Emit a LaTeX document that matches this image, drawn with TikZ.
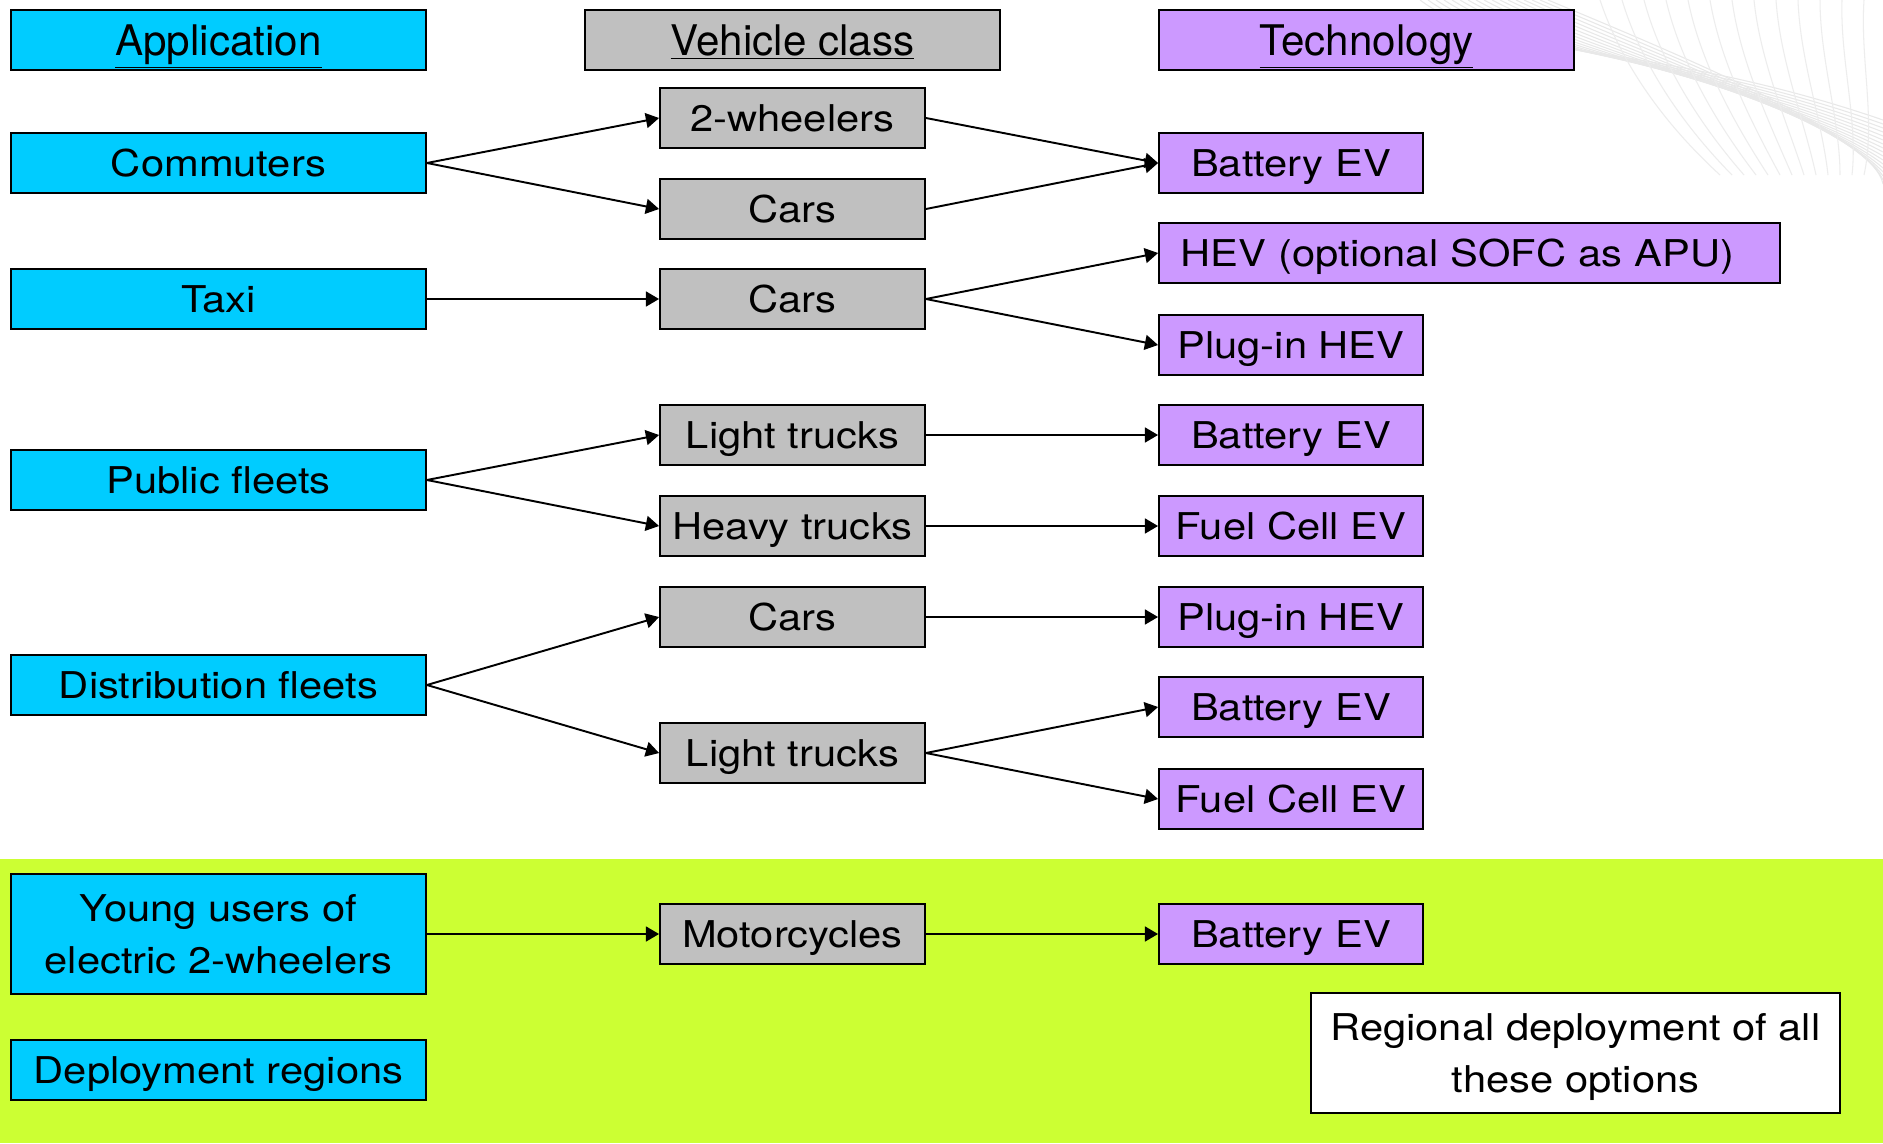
\documentclass[tikz,border=0pt]{standalone}
\usepackage{fontspec}
\setmainfont[FakeStretch=1.13]{TeX Gyre Heros}
\newfontfamily\headfont{TeX Gyre Heros}
\usetikzlibrary{arrows.meta}
\definecolor{appcol}{HTML}{00CCFF}
\definecolor{vehcol}{HTML}{C0C0C0}
\definecolor{techcol}{HTML}{CC99FF}
\definecolor{limecol}{HTML}{CCFF33}
\tikzset{
	box/.style={draw, line width=1.1pt, inner sep=0pt, minimum height=1.2cm, font=\fontsize{21}{29.6}\selectfont},
	oneline/.style={text height=15.1pt, text depth=0pt},
	head/.style={font=\headfont\fontsize{24}{28}\selectfont, text height=17.3pt, text depth=0pt},
	app/.style={box, fill=appcol, minimum width=8.3cm},
	veh/.style={box, fill=vehcol, minimum width=5.3cm},
	tech/.style={box, fill=techcol, minimum width=5.28cm},
	link/.style={line width=1.1pt, -{Triangle[length=7.5pt, width=8.5pt]}}
}
\begin{document}
\begin{tikzpicture}[x=0.02cm, y=-0.02cm]
		\fill[white] (0,0) rectangle (1883,1143);
		\useasboundingbox (0,0) rectangle (1883,1143);
		\fill[limecol] (0,859) rectangle (1883,1143);
		
		% background waves
		\foreach \i in {0,...,16}
			\draw[gray!18, line width=0.6pt] (1420+\i*8,0) .. controls (1500+\i*12,60) and (1650+\i*14,40+\i*6) .. (1883,120+\i*4);
		\foreach \i in {0,...,12}
			\draw[gray!14, line width=0.6pt] (1600+\i*22,0) .. controls (1620+\i*20,60) and (1660+\i*18,120) .. (1720+\i*12,175);
		
		% headers
		\node[app, head] (happ) at (218.5,40) {\underline{Application}};
		\node[veh, head, minimum width=8.3cm] (hveh) at (792.5,40) {\underline{Vehicle class}};
		\node[tech, head, minimum width=8.3cm] (htech) at (1366.5,40) {\underline{Technology}};
		
		% applications
		\node[app, oneline] (comm) at (218.5,163) {Commuters};
		\node[app, oneline] (taxi) at (218.5,299) {Taxi};
		\node[app, oneline] (pub) at (218.5,480) {Public fleets};
		\node[app, oneline] (dist) at (218.5,685) {Distribution fleets};
		\node[app, minimum height=2.4cm, align=center] (young) at (218.5,934) {Young users of\\electric 2-wheelers};
		\node[app, oneline] (depl) at (218.5,1070) {Deployment regions};
		
		% vehicle classes
		\node[veh, oneline] (wheel) at (792.5,118) {2-wheelers};
		\node[veh, oneline] (carsA) at (792.5,209) {Cars};
		\node[veh, oneline] (carsB) at (792.5,299) {Cars};
		\node[veh, oneline] (lightA) at (792.5,435) {Light trucks};
		\node[veh, oneline] (heavy) at (792.5,526) {Heavy trucks};
		\node[veh, oneline] (carsC) at (792.5,617) {Cars};
		\node[veh, oneline] (lightB) at (792.5,753) {Light trucks};
		\node[veh, oneline] (moto) at (792.5,934) {Motorcycles};
		
		% technologies
		\node[tech, oneline] (bevA) at (1291,163) {Battery EV};
		\node[tech, oneline, inner xsep=0.43cm, text width=11.56cm, align=left] (hev) at (1469.5,253) {HEV (optional SOFC as APU)};
		\node[tech, oneline] (phevA) at (1291,345) {Plug-in HEV};
		\node[tech, oneline] (bevB) at (1291,435) {Battery EV};
		\node[tech, oneline] (fcevA) at (1291,526) {Fuel Cell EV};
		\node[tech, oneline] (phevB) at (1291,617) {Plug-in HEV};
		\node[tech, oneline] (bevC) at (1291,707) {Battery EV};
		\node[tech, oneline] (fcevB) at (1291,799) {Fuel Cell EV};
		\node[tech, oneline] (bevD) at (1291,934) {Battery EV};
		
		\node[box, fill=white, minimum width=10.58cm, minimum height=2.4cm, align=center, text depth=0pt] (region) at (1575.5,1053) {Regional deployment of all\\these options};
		
		\draw[link] (comm.east) -- (wheel.west);
		\draw[link] (comm.east) -- (carsA.west);
		\draw[link] (taxi.east) -- (carsB.west);
		\draw[link] (pub.east) -- (lightA.west);
		\draw[link] (pub.east) -- (heavy.west);
		\draw[link] (dist.east) -- (carsC.west);
		\draw[link] (dist.east) -- (lightB.west);
		\draw[link] (young.east) -- (moto.west);
		
		\draw[link] (wheel.east) -- (bevA.west);
		\draw[link] (carsA.east) -- (bevA.west);
		\draw[link] (carsB.east) -- (hev.west);
		\draw[link] (carsB.east) -- (phevA.west);
		\draw[link] (lightA.east) -- (bevB.west);
		\draw[link] (heavy.east) -- (fcevA.west);
		\draw[link] (carsC.east) -- (phevB.west);
		\draw[link] (lightB.east) -- (bevC.west);
		\draw[link] (lightB.east) -- (fcevB.west);
		\draw[link] (moto.east) -- (bevD.west);
	\end{tikzpicture}
\end{document}
